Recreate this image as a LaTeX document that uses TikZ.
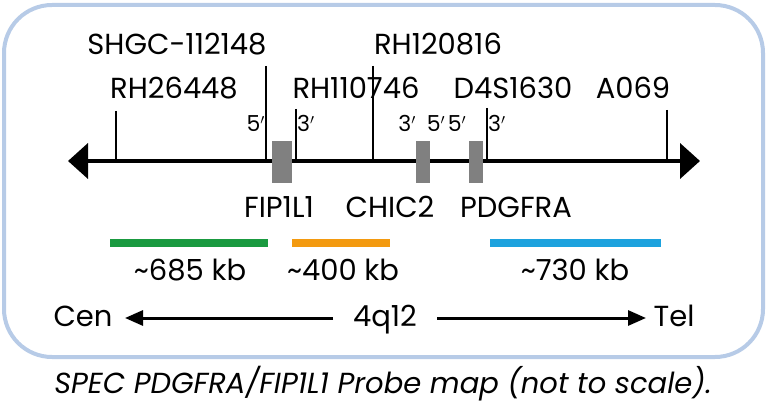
\documentclass[tikz,border=0pt]{standalone}
\usepackage{fontspec}
\setmainfont{Poppins}
\usetikzlibrary{arrows.meta}
\definecolor{frameblue}{HTML}{B7CBE7}
\definecolor{gbar}{HTML}{1A9A40}
\definecolor{obar}{HTML}{F39A10}
\definecolor{bbar}{HTML}{1CA2DE}
\definecolor{genegray}{HTML}{808080}
\begin{document}
\begin{tikzpicture}[x=1pt,y=-1pt,
  lbl/.style={anchor=base,inner sep=0pt,font=\fontsize{29}{32}\selectfont},
  sml/.style={anchor=base,inner sep=0pt,font=\fontsize{22}{24}\selectfont},
  tick/.style={line width=1.6pt,black},
  gene/.style={fill=genegray,draw=none},
  probe/.style={line width=8pt},
  axis/.style={line width=4pt,{Triangle[length=20pt,width=35pt]}-{Triangle[length=20pt,width=35pt]}},
  dirarrow/.style={line width=3pt,-{Triangle[length=18pt,width=15pt]}}]
\useasboundingbox (0,0) rectangle (768,403);
\draw[frameblue,line width=4pt,rounded corners=48pt] (4,5) rectangle (763,357);
% main axis
\coordinate (L) at (68,161);
\coordinate (R) at (700,161);
\draw[axis] (L) -- (R);
% ticks
\coordinate (t1) at (116,111); \coordinate (b1) at (116,161);
\coordinate (t2) at (266,66);  \coordinate (b2) at (266,161);
\coordinate (t3) at (296,109); \coordinate (b3) at (296,161);
\coordinate (t4) at (373,66);  \coordinate (b4) at (373,161);
\coordinate (t5) at (487,108); \coordinate (b5) at (487,161);
\coordinate (t6) at (667,110); \coordinate (b6) at (667,161);
\foreach \i in {1,...,6} \draw[tick] (t\i) -- (b\i);
% genes
\node[gene,minimum width=20pt,minimum height=42pt,inner sep=0pt] (g1) at (282,162) {};
\node[gene,minimum width=14pt,minimum height=42pt,inner sep=0pt] (g2) at (423,162) {};
\node[gene,minimum width=14pt,minimum height=42pt,inner sep=0pt] (g3) at (476,162) {};
% marker labels
\node[lbl] (m1) at (177,55) {SHGC-112148};
\node[lbl] (m2) at (174,99) {RH26448};
\node[lbl] (m3) at (356,99) {RH110746};
\node[lbl] (m4) at (438,55) {RH120816};
\node[lbl] (m5) at (513,99) {D4S1630};
\node[lbl] (m6) at (633,99) {A069};
% 5'/3'
\node[sml,anchor=base east] (p1) at (265,132) {5$'$};
\node[sml,anchor=base west] (p2) at (297,132) {3$'$};
\node[sml] (p3) at (407,132) {3$'$};
\node[sml] (p4) at (436,132) {5$'$};
\node[sml] (p5) at (457,132) {5$'$};
\node[sml,anchor=base west] (p6) at (488,132) {3$'$};
% gene labels
\node[lbl] (n1) at (279,218) {FIP1L1};
\node[lbl] (n2) at (390,218) {CHIC2};
\node[lbl] (n3) at (516,218) {PDGFRA};
% probes
\coordinate (pa1) at (110,243); \coordinate (pa2) at (268,243);
\coordinate (pb1) at (292,243); \coordinate (pb2) at (390,243);
\coordinate (pc1) at (490,243); \coordinate (pc2) at (661,243);
\draw[probe,gbar] (pa1) -- (pa2);
\draw[probe,obar] (pb1) -- (pb2);
\draw[probe,bbar] (pc1) -- (pc2);
\node[lbl] (k1) at (190,280) {\textasciitilde 685 kb};
\node[lbl] (k2) at (343,280) {\textasciitilde 400 kb};
\node[lbl] (k3) at (575,280) {\textasciitilde 730 kb};
% bottom orientation
\node[lbl] (cen) at (83,326) {Cen};
\node[lbl] (q) at (385,326) {4q12};
\node[lbl] (tel) at (674,326) {Tel};
\coordinate (ca) at (333,318); \coordinate (cb) at (125,318);
\coordinate (ta) at (437,318); \coordinate (tb) at (646,318);
\draw[dirarrow] (ca) -- (cb);
\draw[dirarrow] (ta) -- (tb);
% caption
\node[anchor=base,inner sep=0pt,font=\fontsize{29}{32}\selectfont\itshape] (cap) at (383,393) {SPEC PDGFRA/FIP1L1 Probe map (not to scale).};
\end{tikzpicture}
\end{document}
